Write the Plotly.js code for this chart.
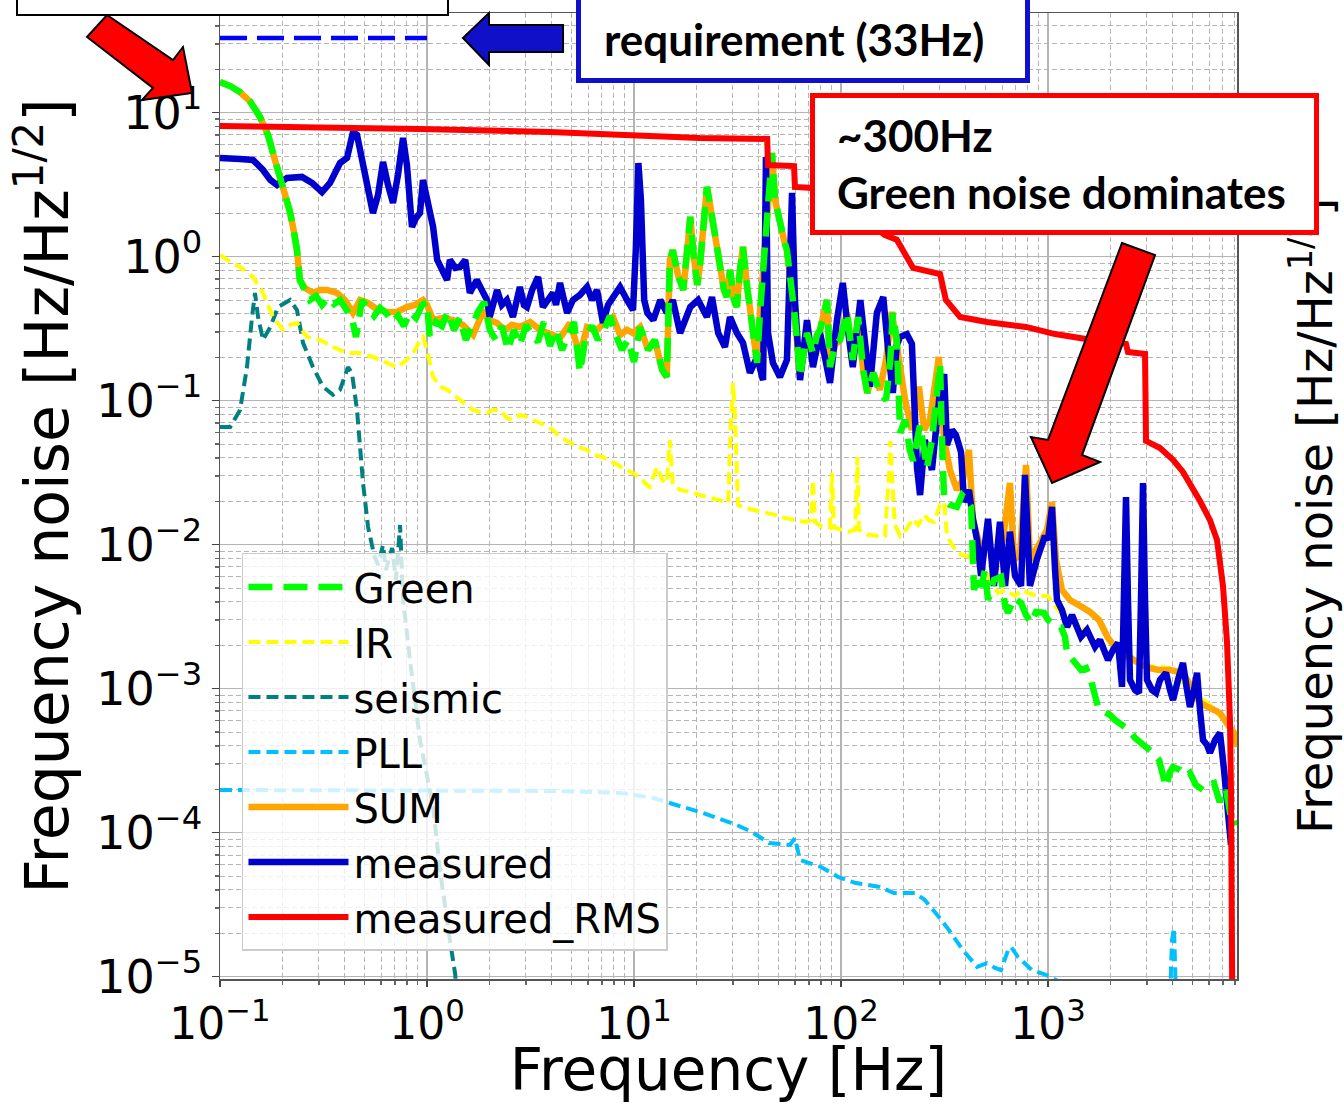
<!DOCTYPE html>
<html><head><meta charset="utf-8">
<script src="https://cdn.plot.ly/plotly-3.0.1.min.js"></script>
<style>html,body{margin:0;padding:0;background:#fff;}#chart{width:1344px;height:1104px;}</style>
</head><body><div id="chart"></div>
<script>
// ---------------- data ----------------
const xTickVals = [0.1, 1, 10, 100, 1000];
const xTickText = ['10<sup>\u22121</sup>', '10<sup>0</sup>', '10<sup>1</sup>', '10<sup>2</sup>', '10<sup>3</sup>'];
const yTickVals = [1e-5, 1e-4, 1e-3, 1e-2, 1e-1, 1, 10];
const yTickText = ['10<sup>\u22125</sup>', '10<sup>\u22124</sup>', '10<sup>\u22123</sup>', '10<sup>\u22122</sup>', '10<sup>\u22121</sup>', '10<sup>0</sup>', '10<sup>1</sup>'];

const seriesNames = ['Green', 'IR', 'seismic', 'PLL', 'SUM', 'measured', 'measured_RMS'];

const reqF = [0.1, 1.0];
const reqV = [33, 33];

const greenF = [0.100,0.112,0.125,0.140,0.156,0.1705,0.1843,0.195,0.2061,0.218,0.2278,0.2355,0.243,0.2574,
0.272,0.291,0.311,0.3324,0.3555,0.380,0.4063,0.434,0.454,0.485,0.519,0.555,0.593,0.634,0.678,0.724,0.774,0.828,0.885,0.946,1.00,1.03,1.105,1.18,1.26,1.35,1.44,1.54,1.65,1.76,1.89,2.01,2.15,2.30,2.46,2.63,2.81,3.01,3.22,3.44,3.67,3.93,4.20,4.49,4.80,5.13,5.48,5.86,6.27,6.70,7.16,7.66,8.19,8.75,9.35,10.0,
10.7,11.7,12.6,13.7,14.4,14.9,15.4,16.3,17.3,18.0,18.7,19.3,20.2,20.8,21.8,22.5,23.3,24.1,25.2,26.0,27.2,28.1,29.1,30.4,31.4,32.5,33.6,35.2,36.3,37.6,39.3,40.6,42.0,43.4,44.4,46.4,48.0,50.7,53.0,54.8,58.0,59.9,63.4,66.3,68.5,73.2,76.6,79.2,85.6,88.5,93.5,98.9,107,114,121,128,134,143,154,165,173,178,186,193,204,215,223,233,241,252,260,275,288,301,307,315,336,363,384,406,425,439,459,475,496,513,548,593,620,641,685,741,783,828,875,956,1000,1081,1156,1208,1236,1306,1381,1443,1526,1613,1687,1744,1865,1993,2107,2278,2462,2633,2781,2975,3180,3438,3594,3716,3884,4017,4341,4642,4852,5188,5609,5929,6338,6700,7084,7244,7569,7917,8190];
const greenV = [16.3,15.3,13.9,11.9,9.34,7.00,4.69,3.63,2.77,2.04,1.48,1.11,0.689,0.587,
0.500,0.533,0.462,0.517,0.469,0.500,0.426,0.375,0.277,0.500,0.440,0.388,0.440,0.407,0.352,0.388,0.330,0.413,0.375,0.462,0.485,0.281,0.352,0.330,0.413,0.310,0.375,0.264,0.330,0.413,0.485,0.310,0.264,0.330,0.225,0.310,0.244,0.336,0.286,0.256,0.352,0.240,0.310,0.225,0.281,0.352,0.158,0.286,0.330,0.264,0.310,0.388,0.281,0.225,0.264,0.186,
0.325,0.225,0.264,0.163,0.146,0.949,1.11,0.746,0.587,1.03,1.89,1.11,0.636,0.848,1.80,3.05,2.29,1.71,1.11,0.770,0.587,0.525,0.808,0.500,0.447,0.808,1.17,0.616,0.426,0.325,0.183,0.407,0.723,1.31,2.48,5.25,2.48,1.61,1.31,1.11,0.616,0.381,0.146,0.225,0.295,0.214,0.286,0.310,0.500,0.171,0.244,0.264,0.407,0.192,0.381,0.163,0.113,0.156,0.113,0.101,0.192,0.407,0.264,0.0597,0.0734,0.0455,0.0382,0.0533,0.0678,0.0455,0.0341,0.0533,0.101,0.180,0.0578,0.0204,0.0189,0.0183,0.0221,0.0204,0.0183,0.00485,0.00616,0.00509,0.00667,0.00413,0.00569,0.00597,0.00381,0.00336,0.00426,0.00394,0.00325,0.00286,0.00341,0.00336,0.00300,0.00277,0.00268,0.00229,0.00177,0.00158,0.00146,0.00135,0.00139,0.00115,9.04e-4,7.46e-4,6.89e-4,6.57e-4,6.06e-4,5.51e-4,5.17e-4,4.55e-4,4.26e-4,3.94e-4,3.64e-4,3.20e-4,2.52e-4,2.08e-4,2.64e-4,2.86e-4,2.73e-4,2.48e-4,2.60e-4,2.14e-4,1.98e-4,2.14e-4,2.21e-4,1.69e-4,1.69e-4,1.98e-4,1.39e-4,1.39e-4,1.13e-4];

const sumF = [0.100,0.112,0.125,0.140,0.156,0.1705,0.1843,0.195,0.2061,0.218,0.2278,0.2355,0.243,0.2574,
0.2813,0.304,0.3287,0.3674,0.4017,0.439,0.475,0.519,0.561,0.641,0.716,0.800,0.875,0.956,1.00,1.07,1.19,1.34,1.49,1.67,1.86,2.01,2.18,2.38,2.57,2.81,3.15,3.52,4.06,4.39,4.91,5.48,5.93,6.63,7.24,7.92,8.56,9.25,9.89,
10.7,11.7,12.6,13.7,14.4,14.9,15.4,16.3,17.3,18.0,18.7,19.3,20.2,20.8,21.8,22.5,23.3,24.1,25.2,26.0,27.2,28.1,29.1,30.4,31.4,32.5,33.6,35.2,36.3,37.6,39.3,40.6,42.0,43.4,44.4,46.4,48.0,50.7,53.0,54.8,58.0,59.9,63.4,66.3,68.5,73.2,76.6,79.2,85.6,88.5,93.5,98.9,107,114,121,128,134,143,
154,165,176,186,204,220,238,252,269,297,
315,336,363,388,415,434,475,513,555,606,655,685,732,783,818,885,935,989,1045,1093,1168,1276,1460,1596,1764,1950,2107,2278,2546,2781,3110,3438,3884,4487,4962,5423,6060,6773,7405,7917,8190];
const sumV = [16.3,15.3,13.9,11.9,9.34,7.00,4.69,3.63,2.77,2.04,1.48,1.11,0.689,0.606,
0.560,0.587,0.587,0.560,0.500,0.407,0.500,0.477,0.440,0.413,0.413,0.447,0.462,0.500,0.462,0.363,0.375,0.363,0.336,0.286,0.413,0.363,0.346,0.310,0.336,0.325,0.352,0.310,0.286,0.272,0.346,0.208,0.325,0.310,0.352,0.381,0.286,0.310,0.295,
0.325,0.225,0.264,0.163,0.146,0.949,1.11,0.746,0.587,1.03,1.89,1.11,0.636,0.848,1.80,3.05,2.29,1.71,1.11,0.770,0.587,0.525,0.808,0.500,0.447,0.808,1.17,0.616,0.426,0.325,0.183,0.407,0.723,1.31,2.48,5.25,2.48,1.61,1.31,1.11,0.616,0.381,0.146,0.225,0.295,0.214,0.286,0.310,0.500,0.171,0.244,0.264,0.407,0.192,0.381,0.163,0.113,0.156,
0.119,0.192,0.413,0.244,0.101,0.0626,0.125,0.0626,0.0734,0.201,
0.0533,0.0330,0.0240,0.0281,0.0455,0.0148,0.00919,0.00995,0.00848,0.0108,0.0268,0.00783,0.00848,0.0358,0.00783,0.00949,0.0108,0.0127,0.0198,0.00783,0.00485,0.00413,0.00369,0.00341,0.00300,0.00225,0.00195,0.00180,0.00158,0.00148,0.00139,0.00135,0.00135,0.00129,0.00101,7.96e-4,7.35e-4,6.78e-4,5.60e-4,4.93e-4,3.94e-4];

const measF = [0.100,0.112,0.125,0.1443,0.1613,0.175,0.1885,0.2107,0.2489,0.2783,0.311,0.340,0.380,0.411,0.439,0.459,0.485,0.519,0.548,0.580,0.613,0.648,0.685,0.724,0.766,0.800,0.846,0.885,0.925,0.956,1.01,1.07,1.12,1.18,1.25,1.29,1.37,1.44,1.53,1.61,1.69,1.74,1.84,1.95,2.01,2.11,2.18,2.30,2.43,2.60,2.72,2.81,2.94,3.04,3.22,3.44,3.63,3.84,4.06,4.20,4.39,4.59,4.75,5.07,5.48,5.93,6.27,6.63,7.08,7.49,8.01,8.56,9.25,9.89,10.2,10.5,10.8,11.2,11.6,12.4,13.4,14.4,15.4,16.7,18.7,20.4,22.5,23.8,25.5,27.5,29.1,31.4,33.6,36.3,39.3,42.0,42.9,43.4,44.4,46.9,50.7,54.8,56.7,58.0,59.9,63.4,68.5,73.2,79.2,84.6,88.5,95.6,102,108,114,124,132,138,149,160,169,178,186,193,208,220,233,241,254,275,301,315,325,344,359,380,393,415,434,454,475,496,513,548,586,620,655,693,741,774,801,818,885,967,1000,1045,1081,1105,1168,1236,1306,1443,1543,1687,1783,1950,2061,2179,2278,2329,2381,2434,2489,2633,2751,2813,2877,2942,3008,3180,3325,3475,3716,3884,4017,4246,4487,4694,4852,5074,5247,5423,5609,5864,6060,6410,6773,7084,7322,7487,7656];
const measV = [4.85,4.85,4.77,4.69,4.00,3.41,3.15,3.52,3.58,3.25,2.81,3.25,4.47,4.85,7.34,7.00,4.69,2.68,2.01,2.68,4.55,3.15,2.36,3.69,6.67,4.33,1.61,1.86,2.01,3.41,2.48,1.61,0.949,0.808,0.689,0.949,0.835,0.848,0.949,0.560,0.636,0.689,0.587,0.500,0.381,0.500,0.587,0.462,0.500,0.381,0.500,0.616,0.462,0.447,0.587,0.723,0.447,0.500,0.560,0.462,0.657,0.500,0.407,0.500,0.542,0.616,0.500,0.587,0.346,0.462,0.542,0.616,0.500,0.426,1.11,4.47,2.48,0.500,0.407,0.363,0.500,0.407,0.500,0.295,0.447,0.500,0.381,0.525,0.295,0.236,0.381,0.295,0.252,0.156,0.201,0.139,1.11,4.92,0.295,0.183,0.146,0.192,0.949,2.77,0.500,0.139,0.363,0.171,0.295,0.192,0.133,0.363,0.657,0.310,0.171,0.500,0.225,0.125,0.407,0.525,0.225,0.113,0.244,0.277,0.290,0.248,0.0341,0.0221,0.0533,0.0330,0.119,0.153,0.0493,0.0626,0.0578,0.0440,0.0198,0.0240,0.0151,0.0108,0.00606,0.0108,0.0151,0.00517,0.0144,0.00517,0.0123,0.00606,0.00517,0.0305,0.00783,0.00517,0.00796,0.0115,0.0108,0.0183,0.00678,0.00413,0.00352,0.00268,0.00325,0.00229,0.00256,0.00195,0.00218,0.00158,0.00186,0.00208,0.00103,0.00413,0.0214,0.00413,0.00115,9.79e-4,9.34e-4,0.00413,0.0268,0.00413,0.00115,9.79e-4,9.34e-4,0.00115,0.00129,9.79e-4,8.35e-4,0.00115,0.00151,9.79e-4,7.46e-4,9.79e-4,0.00129,7.11e-4,4.40e-4,4.06e-4,3.58e-4,4.40e-4,4.93e-4,2.73e-4,1.51e-4,1.13e-4,8.21e-5];

const rmsF = [0.1,0.34,0.925,3.93,10.7,20.8,44.0,44.4,59.3,59.9,73.2,99,131,163,186,208,223,301,321,376,507,783,1081,1526,2381,2434,2942,2975,3475,4017,4487,5423,6060,6552,7004,7322,7569,7656,7743,7830];
const rmsV = [8.08,7.95,7.71,7.34,6.89,6.67,6.57,4.33,4.26,3.05,3.0,2.48,1.80,1.41,1.31,0.979,0.835,0.758,0.500,0.381,0.352,0.325,0.290,0.268,0.248,0.218,0.211,0.0525,0.0469,0.0388,0.0320,0.0201,0.0148,0.0108,0.00517,0.00211,6.06e-4,1.98e-4,3.41e-5,1e-6];

const irF = [0.100,0.112,0.125,0.1443,0.1613,0.1803,0.2016,0.218,0.2355,0.2632,0.304,0.3515,0.411,0.475,0.548,0.641,0.716,0.800,0.875,0.925,0.956,1.00,1.07,1.16,1.25,1.34,1.44,1.56,1.67,1.80,1.95,2.08,2.25,2.43,2.60,2.81,3.04,3.25,3.52,3.80,4.06,4.39,4.91,5.36,5.93,6.48,7.08,7.83,8.56,9.57,10.7,11.3,11.9,12.9,13.7,14.4,14.9,15.4,16.7,18.7,20.8,23.3,26.0,28.5,29.4,30.1,30.8,31.8,34.4,38.4,42.9,48.0,53.6,59.9,67.0,71.6,73.2,74.9,81.0,88.5,90.5,92.5,101,110,117,120,122,135,151,163,171,173,176,182,193,206,223,236,252,266,281,301,315,325,344,363,384,406,439,475,513,542,573,620,693,749,801,885,1000,1118,1249,1428,1687,1993,2489,3110,3884,4852,6060,7405,8190];
const irV = [1.03,0.919,0.848,0.723,0.560,0.381,0.310,0.336,0.346,0.277,0.264,0.236,0.214,0.214,0.201,0.183,0.171,0.192,0.225,0.264,0.277,0.225,0.146,0.125,0.119,0.110,0.101,0.0934,0.0862,0.0834,0.0821,0.0862,0.0862,0.0758,0.0734,0.0796,0.0771,0.0734,0.0700,0.0657,0.0626,0.0560,0.0508,0.0477,0.0455,0.0420,0.0406,0.0375,0.0346,0.0320,0.0295,0.0268,0.0252,0.0346,0.0281,0.0268,0.0533,0.0260,0.0240,0.0232,0.0221,0.0211,0.0204,0.0195,0.0734,0.133,0.0734,0.0189,0.0180,0.0174,0.0169,0.0161,0.0153,0.0148,0.0144,0.0148,0.0281,0.0144,0.0133,0.0131,0.0315,0.0131,0.0127,0.0123,0.0127,0.0406,0.0127,0.0117,0.0115,0.0115,0.0330,0.0525,0.0330,0.0137,0.0115,0.0127,0.0151,0.0137,0.0161,0.0148,0.0144,0.0189,0.0198,0.0115,0.00995,0.00890,0.00848,0.00835,0.00783,0.00746,0.00616,0.00525,0.00462,0.00485,0.00440,0.00485,0.00462,0.00440,0.00440,0.00352,0.00300,0.00272,0.00218,0.00192,0.00158,0.00144,0.00139,9.79e-4,7.70e-4,5.60e-4,4.06e-4];

const seisF = [0.100,0.112,0.125,0.135,0.1428,0.1476,0.1527,0.1613,0.175,0.1907,0.218,0.2355,0.2518,0.2813,0.3145,0.3515,0.380,0.415,0.434,0.459,0.491,0.519,0.555,0.580,0.613,0.634,0.678,0.708,0.741,0.766,0.828,0.925,1.07,1.16,1.29,1.37,1.44];
const seisV = [0.0657,0.0657,0.0862,0.171,0.381,0.560,0.381,0.264,0.325,0.447,0.500,0.426,0.252,0.171,0.125,0.110,0.119,0.171,0.156,0.0862,0.0268,0.0133,0.00848,0.00723,0.00995,0.00667,0.00949,0.00569,0.0137,0.00413,0.00158,4.40e-4,1.51e-4,5.25e-5,1.80e-5,1.03e-5,1e-6];

const pllF = [0.100,0.741,3.93,8.56,12.4,21.5,31.4,37.2,44.9,56.7,59.9,63.4,80.1,96.7,118,154,180,228,254,297,332,388,454,507,555,593,641,663,716,837,978,1142,1276,3675,3885,3972,4062,4153,4341];
const pllV = [1.98e-4,1.98e-4,1.95e-4,1.89e-4,1.74e-4,1.37e-4,1.13e-4,1.01e-4,8.48e-5,8.21e-5,9.19e-5,6.46e-5,5.78e-5,4.93e-5,4.47e-5,4.20e-5,3.81e-5,3.81e-5,3.41e-5,2.60e-5,2.11e-5,1.53e-5,1.17e-5,1.24e-5,1.15e-5,1.11e-5,1.53e-5,1.61e-5,1.37e-5,1.11e-5,1.03e-5,9.19e-6,6e-6,6e-6,7e-6,1.80e-5,2.18e-5,7e-6,6e-6];

// ---------------- styling ----------------
const FONT = 'DejaVu Sans, sans-serif';
function tr(name, x, y, color, width, dash, rank) {
  return {type: 'scatter', mode: 'lines', name: name, x: x, y: y,
    line: {color: color, width: width, dash: dash},
    legendgroup: name, legendrank: rank, hoverinfo: 'skip'};
}
const traces = [
  tr(seriesNames[3], pllF, pllV, '#00bfff', 4, '12px,6px', 4),
  tr(seriesNames[2], seisF, seisV, '#008080', 4, '12px,6px', 3),
  tr(seriesNames[1], irF, irV, '#ffff00', 4, '12px,6px', 2),
  tr(seriesNames[4], sumF, sumV, '#ffa500', 6.5, 'solid', 5),
  tr(seriesNames[5], measF, measV, '#0000cd', 6.5, 'solid', 6),
  tr(seriesNames[0], greenF, greenV, '#00ff00', 6.5, '24px,11px', 1),
  tr(seriesNames[6], rmsF, rmsV, '#ff0000', 6, 'solid', 7),
  {type: 'scatter', mode: 'lines', x: reqF, y: reqV, showlegend: false, hoverinfo: 'skip',
   line: {color: '#0000ff', width: 4.5, dash: '27px,10px'}}
];

const xMinor = [], yMinor = [];
for (let d = -1; d <= 3; d++) for (let m = 2; m <= 9; m++) xMinor.push(m * Math.pow(10, d));
for (let d = -5; d <= 1; d++) for (let m = 2; m <= 9; m++) yMinor.push(m * Math.pow(10, d));

const gridC = '#b4b4b4';
const layout = {
  width: 1344, height: 1104,
  margin: {l: 220, r: 107, t: 13, b: 125, pad: 0},
  paper_bgcolor: '#ffffff', plot_bgcolor: '#ffffff',
  font: {family: FONT, color: '#000000'},
  showlegend: true, hovermode: false,
  xaxis: {
    type: 'log', range: [-1, 3.913], autorange: false,
    tickmode: 'array', tickvals: xTickVals, ticktext: xTickText,
    tickfont: {size: 44, family: FONT, color: '#000'},
    ticks: 'outside', ticklen: 6, tickwidth: 1.5, tickcolor: '#444',
    showline: true, linecolor: '#555', linewidth: 1.5, mirror: true,
    showgrid: true, gridcolor: gridC, gridwidth: 1.5,
    minor: {tickmode: 'array', tickvals: xMinor, showgrid: true, gridcolor: gridC, gridwidth: 1, griddash: '5px,3px', ticks: 'outside', ticklen: 4, tickcolor: '#666'},
    title: {text: 'Frequency [Hz]', font: {size: 58, family: FONT, color: '#000'}, standoff: 14}
  },
  yaxis: {
    type: 'log', range: [-5.016, 1.692], autorange: false,
    tickmode: 'array', tickvals: yTickVals, ticktext: yTickText,
    tickfont: {size: 46, family: FONT, color: '#000'},
    ticks: 'outside', ticklen: 7, tickwidth: 1.5, tickcolor: '#444',
    showline: true, linecolor: '#555', linewidth: 1.5, mirror: true,
    showgrid: true, gridcolor: gridC, gridwidth: 1.5,
    minor: {tickmode: 'array', tickvals: yMinor, showgrid: true, gridcolor: gridC, gridwidth: 1, griddash: '5px,3px', ticks: 'outside', ticklen: 4, tickcolor: '#666'},
    title: {text: 'Frequency noise [Hz/Hz<sup>1/2</sup>]', font: {size: 60, family: FONT, color: '#000'}, standoff: 8}
  },
  legend: {
    x: 0.0216, y: 0.441, xanchor: 'left', yanchor: 'top',
    bgcolor: 'rgba(255,255,255,0.8)', bordercolor: '#cccccc', borderwidth: 1.5,
    font: {size: 40, family: FONT, color: '#000'},
    itemwidth: 100, tracegroupgap: 4, traceorder: 'normal'
  },
  shapes: [
    {type: 'path', xref: 'paper', yref: 'paper', layer: 'above',
     path: 'M -0.1308,0.9752 L -0.1111,0.9979 L -0.0462,0.9513 L -0.0364,0.9648 L -0.0275,0.9172 L -0.0767,0.9099 L -0.0659,0.9224 Z',
     fillcolor: '#ff0000', line: {color: '#000000', width: 2}},
    {type: 'rect', xref: 'paper', yref: 'paper', layer: 'above',
     x0: -0.1996, x1: 0.2242, y0: 0.9979, y1: 1.06,
     fillcolor: '#ffffff', line: {color: '#000000', width: 2}},
    {type: 'path', xref: 'paper', yref: 'paper', layer: 'above',
     path: 'M 0.2389,0.9741 L 0.2645,1.0 L 0.2645,0.9876 L 0.3373,0.9876 L 0.3373,0.9596 L 0.2645,0.9596 L 0.2645,0.9462 Z',
     fillcolor: '#1010c8', line: {color: '#000000', width: 2}},
    {type: 'path', xref: 'paper', yref: 'paper', layer: 'above',
     path: 'M 0.8869,0.7619 L 0.9194,0.7495 L 0.8476,0.5424 L 0.8653,0.5352 L 0.8181,0.5135 L 0.7974,0.5611 L 0.8142,0.5580 Z',
     fillcolor: '#ff0000', line: {color: '#000000', width: 2}}
  ],
  annotations: [
    {xref: 'paper', yref: 'paper', x: 1.0737, y: 0.4793, xanchor: 'center', yanchor: 'middle',
     text: 'Frequency noise [Hz/Hz<sup>1/2</sup>]', textangle: -90, showarrow: false,
     font: {size: 48, family: FONT, color: '#000'}},
    {xref: 'paper', yref: 'paper', x: 0.5737, y: 0.9746, xanchor: 'center', yanchor: 'middle',
     text: ' ', showarrow: false, width: 444, height: 80, bgcolor: '#ffffff',
     bordercolor: '#1010cc', borderwidth: 5, borderpad: 0},
    {xref: 'paper', yref: 'paper', x: 0.5644, y: 0.9731, xanchor: 'center', yanchor: 'middle',
     text: 'requirement (33Hz)', showarrow: false,
     font: {size: 44, family: 'Lato, Open Sans, sans-serif', color: '#000', weight: 700}},
    {xref: 'paper', yref: 'paper', x: 0.8299, y: 0.8442, xanchor: 'center', yanchor: 'middle',
     text: ' ', showarrow: false, width: 499, height: 132, bgcolor: '#ffffff',
     bordercolor: '#ff0000', borderwidth: 5, borderpad: 0},
    {xref: 'paper', yref: 'paper', x: 0.6047, y: 0.8442, xanchor: 'left', yanchor: 'middle', align: 'left',
     text: '~300Hz<br>Green noise dominates', showarrow: false,
     font: {size: 44, family: 'Lato, Open Sans, sans-serif', color: '#000', weight: 700}}
  ]
};

Plotly.newPlot('chart', traces, layout, {staticPlot: true, displayModeBar: false});
</script></body></html>
